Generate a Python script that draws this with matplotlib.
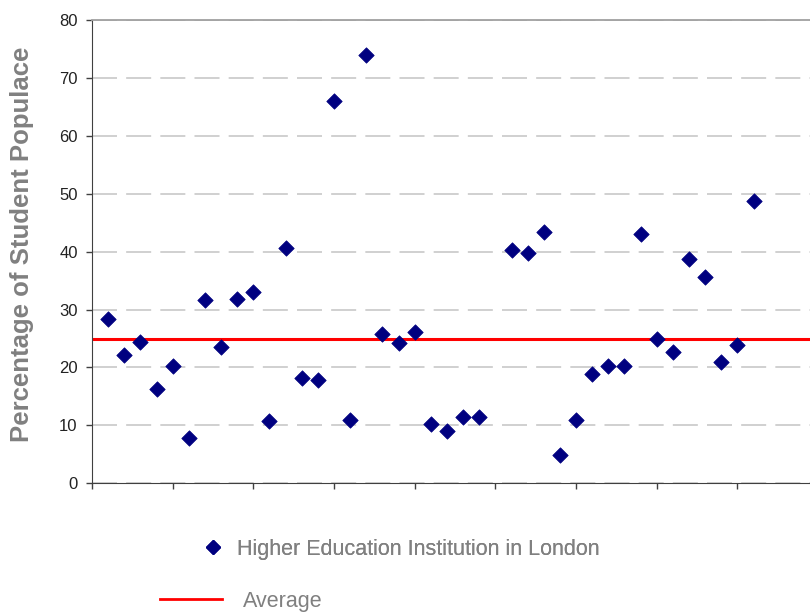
import matplotlib.pyplot as plt
from matplotlib.lines import Line2D

plt.rcParams['font.family'] = ['Liberation Sans', 'DejaVu Sans']

# institution number (no entry for 25) and share of student populace (%)
institution = [1, 2, 3, 4, 5, 6, 7, 8, 9, 10,
               11, 12, 13, 14, 15, 16, 17, 18, 19, 20,
               21, 22, 23, 24, 26, 27, 28, 29, 30, 31,
               32, 33, 34, 35, 36, 37, 38, 39, 40, 41]
percentage = [28.4, 22.2, 24.4, 16.3, 20.3, 7.9, 31.6, 23.5, 31.8, 33.1,
              10.8, 40.7, 18.2, 17.9, 66.1, 11.0, 73.9, 25.7, 24.2, 26.2,
              10.3, 9.1, 11.5, 11.5, 40.2, 39.8, 43.4, 4.8, 11.0, 18.9,
              20.3, 20.3, 43.1, 25.0, 22.7, 38.8, 35.7, 21.0, 23.8, 48.7]
average = 25.0

y_ticks = [0, 10, 20, 30, 40, 50, 60, 70, 80]
x_ticks = [0, 5, 10, 15, 20, 25, 30, 35, 40]

fig = plt.figure(figsize=(8.1, 6.12), dpi=100)
ax = fig.add_axes([0.1136, 0.2103, 0.8864, 0.757])

ax.scatter(institution, percentage, marker='D', s=62, color='#000080',
           edgecolors='#000080', linewidths=0.5, zorder=3)
ax.axhline(average, color='#ff0000', lw=2.2, zorder=2)

ax.set_xlim(0, 44.5)
ax.set_ylim(0, 80)
ax.set_yticks(y_ticks)
ax.set_xticks(x_ticks)
ax.set_xticklabels([])

ax.yaxis.grid(True, color='#c8c8c8', lw=1.2, linestyle=(0, (15, 5.5)))
ax.set_axisbelow(True)

ax.spines['right'].set_visible(False)
ax.spines['top'].set_color('#a0a0a0')
ax.spines['top'].set_linewidth(1.3)
ax.spines['left'].set_color('#404040')
ax.spines['bottom'].set_color('#404040')
ax.tick_params(axis='both', direction='out', length=4.3, width=1,
               color='#404040', labelsize=12, labelcolor='#222222', pad=6)

fig.text(0.027, 1 - 244 / 612, 'Percentage of Student Populace', rotation=90,
         ha='center', va='center', fontsize=18.5, fontweight='bold',
         color='#808080')

# two separate legend rows below the plot
h1 = Line2D([], [], marker='D', ls='none', color='#000080', markersize=7.5)
h2 = Line2D([], [], color='#ff0000', lw=2)
leg1 = fig.legend([h1], ['Higher Education Institution in London'],
                  loc='center left', bbox_to_anchor=(204 / 810, 1 - 549 / 612),
                  frameon=False, fontsize=15.5, handlelength=0.84,
                  handletextpad=0.7, borderpad=0, borderaxespad=0,
                  labelcolor='#808080')
leg2 = fig.legend([h2], ['Average'],
                  loc='center left', bbox_to_anchor=(160 / 810, 1 - 601 / 612),
                  frameon=False, fontsize=15.5, handlelength=2.88,
                  handletextpad=0.98, borderpad=0, borderaxespad=0,
                  labelcolor='#808080')
fig.add_artist(leg1)

fig.savefig('out.png', dpi=100)
